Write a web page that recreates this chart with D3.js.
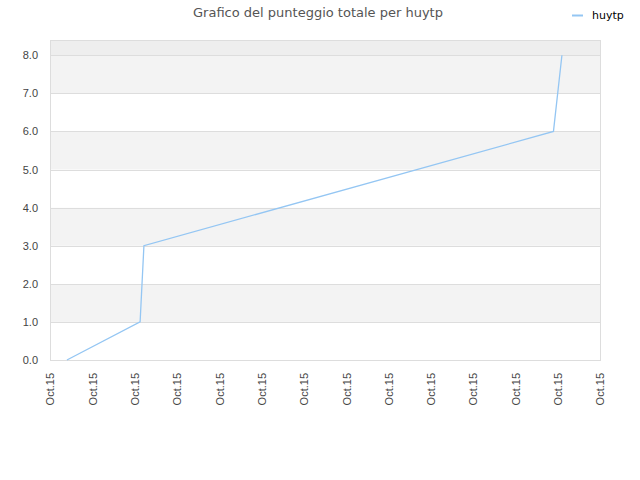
<!DOCTYPE html>
<html>
<head>
<meta charset="utf-8">
<script src="https://cdn.jsdelivr.net/npm/d3@7"></script>
<style>
body { margin: 0; background: #fff; }
svg { font-family: "DejaVu Sans", sans-serif; }
</style>
</head>
<body>
<svg id="drawing_region"></svg>
<script>
// x positions are given in tick steps (0 = first "Oct.15" tick)
const xValues = [0.40, 2.13, 2.22, 11.90, 12.10];
const scores = [0, 1, 3, 6, 8];
const xTickLabels = ["Oct.15","Oct.15","Oct.15","Oct.15","Oct.15","Oct.15","Oct.15",
                     "Oct.15","Oct.15","Oct.15","Oct.15","Oct.15","Oct.15","Oct.15"];
const yTicks = [0, 1, 2, 3, 4, 5, 6, 7, 8];
const seriesName = "huytp";
const title = "Grafico del punteggio totale per huytp";

const config = {
    width: 640,
    height: 480,
    margin: {top: 40, right: 40, bottom: 120, left: 50}
};

const svg = d3.select('#drawing_region')
    .attr('width', config.width)
    .attr('height', config.height);

const inner_width = config.width - config.margin.left - config.margin.right;
const inner_height = config.height - config.margin.top - config.margin.bottom;

const chart = svg.append('g')
    .attr('transform', `translate(${config.margin.left}, ${config.margin.top})`);

const xscale = d3.scaleLinear()
    .domain([0, xTickLabels.length - 1])
    .range([0, inner_width]);

const yscale = d3.scaleLinear()
    .domain([0, 8.4])
    .range([inner_height, 0]);

// alternating bands
const bands = d3.range(0, 8).map(i => ({lo: i, hi: i + 1}));
chart.selectAll('.band')
    .data(bands)
    .enter()
    .append('rect')
    .attr('x', 0)
    .attr('width', inner_width)
    .attr('y', d => yscale(d.hi))
    .attr('height', d => yscale(d.lo) - yscale(d.hi))
    .attr('fill', d => d.lo % 2 === 1 ? '#f3f3f3' : '#ffffff');

chart.append('rect')
    .attr('x', 0)
    .attr('width', inner_width)
    .attr('y', yscale(8.4))
    .attr('height', yscale(8) - yscale(8.4))
    .attr('fill', '#eeeeee');

// grid lines
chart.selectAll('.grid')
    .data(yTicks)
    .enter()
    .append('line')
    .attr('x1', 0)
    .attr('x2', inner_width)
    .attr('y1', d => Math.round(yscale(d)) + 0.5)
    .attr('y2', d => Math.round(yscale(d)) + 0.5)
    .attr('stroke', '#dddddd');

// frame
chart.append('rect')
    .attr('x', 0.5)
    .attr('y', 0.5)
    .attr('width', inner_width)
    .attr('height', inner_height)
    .attr('fill', 'none')
    .attr('stroke', '#dddddd');

// y axis
const yaxis = d3.axisLeft(yscale)
    .tickValues(yTicks)
    .tickSize(0)
    .tickPadding(12)
    .tickFormat(d3.format('.1f'));

const yaxis_group = chart.append('g').call(yaxis);
yaxis_group.select('.domain').remove();
yaxis_group.selectAll('text')
    .attr('fill', '#444')
    .attr('font-size', '11px');

// x axis
const xaxis = d3.axisBottom(xscale)
    .tickValues(d3.range(xTickLabels.length))
    .tickSize(0)
    .tickFormat(i => xTickLabels[i]);

const xaxis_group = chart.append('g')
    .attr('transform', `translate(0, ${inner_height})`)
    .call(xaxis);
xaxis_group.select('.domain').remove();
xaxis_group.selectAll('text')
    .attr('fill', '#444')
    .attr('font-size', '11px')
    .attr('text-anchor', 'end')
    .attr('dy', '0.35em')
    .attr('transform', 'translate(0, 13) rotate(-90)')
    .attr('x', 0)
    .attr('y', 0);

// line
const points = xValues.map((x, i) => ({x: x, y: scores[i]}));
const line = d3.line()
    .x(d => xscale(d.x))
    .y(d => yscale(d.y));

chart.append('path')
    .datum(points)
    .attr('d', line)
    .attr('fill', 'none')
    .attr('stroke', '#94c6f3')
    .attr('stroke-width', 1.3);

// title
svg.append('text')
    .attr('x', 318)
    .attr('y', 17)
    .attr('text-anchor', 'middle')
    .attr('fill', '#555')
    .attr('font-size', '13px')
    .text(title);

// legend
svg.append('line')
    .attr('x1', 572)
    .attr('x2', 583)
    .attr('y1', 15.5)
    .attr('y2', 15.5)
    .attr('stroke', '#94c6f3')
    .attr('stroke-width', 2);

svg.append('text')
    .attr('x', 592)
    .attr('y', 19)
    .attr('fill', '#000')
    .attr('font-size', '11px')
    .text(seriesName);
</script>
</body>
</html>
